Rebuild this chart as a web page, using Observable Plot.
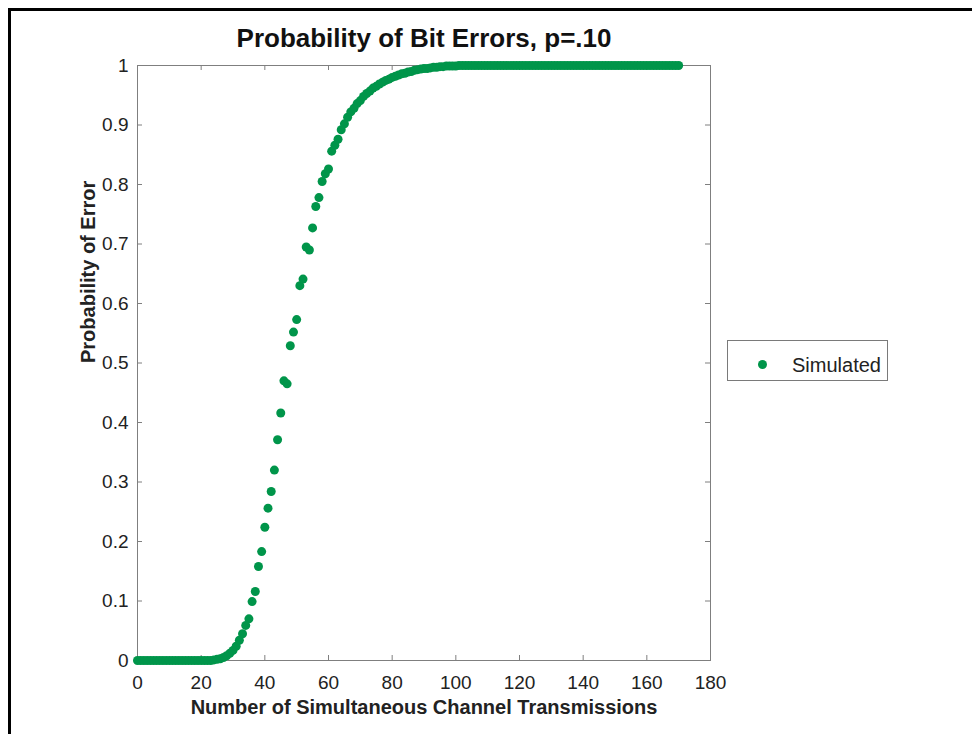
<!DOCTYPE html>
<html>
<head>
<meta charset="utf-8">
<script src="https://cdn.jsdelivr.net/npm/d3@7"></script>
<script src="https://cdn.jsdelivr.net/npm/@observablehq/plot@0.6"></script>
<style>
  html, body { margin: 0; padding: 0; background: #fff; }
  #wrap { position: relative; width: 972px; height: 734px; overflow: hidden; font-family: "Liberation Sans", Arial, sans-serif; }
  #border { position: absolute; left: 8px; top: 8px; width: 980px; height: 740px; border-left: 3px solid #000; border-top: 3px solid #000; box-sizing: border-box; pointer-events: none; }
  #chart { position: absolute; left: 0; top: 0; }
  #legend { position: absolute; left: 727px; top: 340px; width: 161px; height: 41px; border: 1px solid #7a7a7a; box-sizing: border-box; background: #fff; }
  #legend .dot { position: absolute; left: 30px; top: 19px; width: 9px; height: 9px; border-radius: 50%; background: #00954a; }
  #legend .lbl { position: absolute; left: 64px; top: 12px; font-size: 20px; line-height: 24px; color: #222; }
</style>
</head>
<body>
<div id="wrap">
  <div id="chart"></div>
  <div id="border"></div>
  <div id="legend"><div class="dot"></div><div class="lbl" id="legendLabel"></div></div>
</div>
<script>
const title = "Probability of Bit Errors, p=.10";
const xLabel = "Number of Simultaneous Channel Transmissions";
const yLabel = "Probability of Error";
const seriesName = "Simulated";

const xTicks = [0, 20, 40, 60, 80, 100, 120, 140, 160, 180];
const yTicks = [0, 0.1, 0.2, 0.3, 0.4, 0.5, 0.6, 0.7, 0.8, 0.9, 1];

const transmissions = [
  0,1,2,3,4,5,6,7,8,9,
  10,11,12,13,14,15,16,17,18,19,
  20,21,22,23,24,25,26,27,28,29,
  30,31,32,33,34,35,36,37,38,39,
  40,41,42,43,44,45,46,47,48,49,
  50,51,52,53,54,55,56,57,58,59,
  60,61,62,63,64,65,66,67,68,69,
  70,71,72,73,74,75,76,77,78,79,
  80,81,82,83,84,85,86,87,88,89,
  90,91,92,93,94,95,96,97,98,99,
  100,101,102,103,104,105,106,107,108,109,
  110,111,112,113,114,115,116,117,118,119,
  120,121,122,123,124,125,126,127,128,129,
  130,131,132,133,134,135,136,137,138,139,
  140,141,142,143,144,145,146,147,148,149,
  150,151,152,153,154,155,156,157,158,159,
  160,161,162,163,164,165,166,167,168,169,
  170
];

const errorProb = [
  0,0,0,0,0,0,0,0,0,0,
  0,0,0,0,0,0,0,0,0,0,
  0,0,0,0,0.001,0.002,0.003,0.005,0.008,0.012,
  0.017,0.024,0.034,0.045,0.059,0.070,0.099,0.116,0.158,0.183,
  0.224,0.256,0.284,0.320,0.371,0.416,0.470,0.465,0.529,0.552,
  0.573,0.630,0.641,0.695,0.690,0.727,0.763,0.778,0.805,0.818,
  0.826,0.856,0.866,0.876,0.892,0.902,0.913,0.922,0.928,0.936,
  0.941,0.948,0.953,0.957,0.962,0.965,0.969,0.972,0.975,0.977,
  0.980,0.982,0.984,0.986,0.987,0.989,0.990,0.992,0.993,0.994,
  0.995,0.995,0.996,0.997,0.997,0.998,0.998,0.999,0.999,0.999,
  0.999,1,1,1,1,1,1,1,1,1,
  1,1,1,1,1,1,1,1,1,1,
  1,1,1,1,1,1,1,1,1,1,
  1,1,1,1,1,1,1,1,1,1,
  1,1,1,1,1,1,1,1,1,1,
  1,1,1,1,1,1,1,1,1,1,
  1,1,1,1,1,1,1,1,1,1,
  1
];

const data = transmissions.map((x, i) => ({x, p: errorProb[i]}));

const green = "#00954a";
const frameColor = "#7f7f7f";
const W = 972, H = 734;
const mL = 137, mR = 262, mT = 65, mB = 74;
const frameW = W - mL - mR, frameH = H - mT - mB;
const tickLen = 5;

const chart = Plot.plot({
  width: W,
  height: H,
  marginLeft: mL,
  marginRight: mR,
  marginTop: mT,
  marginBottom: mB,
  style: {fontFamily: "'Liberation Sans', Arial, sans-serif", color: "#222", background: "#fff"},
  x: {domain: [0, 180]},
  y: {domain: [0, 1]},
  marks: [
    Plot.frame({stroke: frameColor}),
    Plot.tickX(xTicks, {x: d => d, insetTop: frameH - tickLen, stroke: frameColor}),
    Plot.tickX(xTicks, {x: d => d, insetBottom: frameH - tickLen, stroke: frameColor}),
    Plot.tickY(yTicks, {y: d => d, insetRight: frameW - tickLen, stroke: frameColor}),
    Plot.tickY(yTicks, {y: d => d, insetLeft: frameW - tickLen, stroke: frameColor}),
    Plot.axisX({ticks: xTicks, tickSize: 0, tickPadding: 15, fontSize: 19, label: null, tickFormat: d => String(d)}),
    Plot.axisY({ticks: yTicks, tickSize: 0, tickPadding: 9, fontSize: 19, label: null, tickFormat: d => String(d)}),
    Plot.dot(data, {x: "x", y: "p", r: 4.5, fill: green, stroke: "none", clip: false}),
    Plot.text([title], {frameAnchor: "top", lineAnchor: "middle", dy: -27, fontSize: 26, fontWeight: "bold", fill: "#111"}),
    Plot.text([xLabel], {frameAnchor: "bottom", lineAnchor: "middle", dy: 47, fontSize: 20, fontWeight: "bold", fill: "#222"}),
    Plot.text([yLabel], {frameAnchor: "left", dx: -49, rotate: -90, fontSize: 20, fontWeight: "bold", fill: "#222"})
  ]
});
document.getElementById("chart").appendChild(chart);
document.getElementById("legendLabel").textContent = seriesName;
</script>
</body>
</html>
